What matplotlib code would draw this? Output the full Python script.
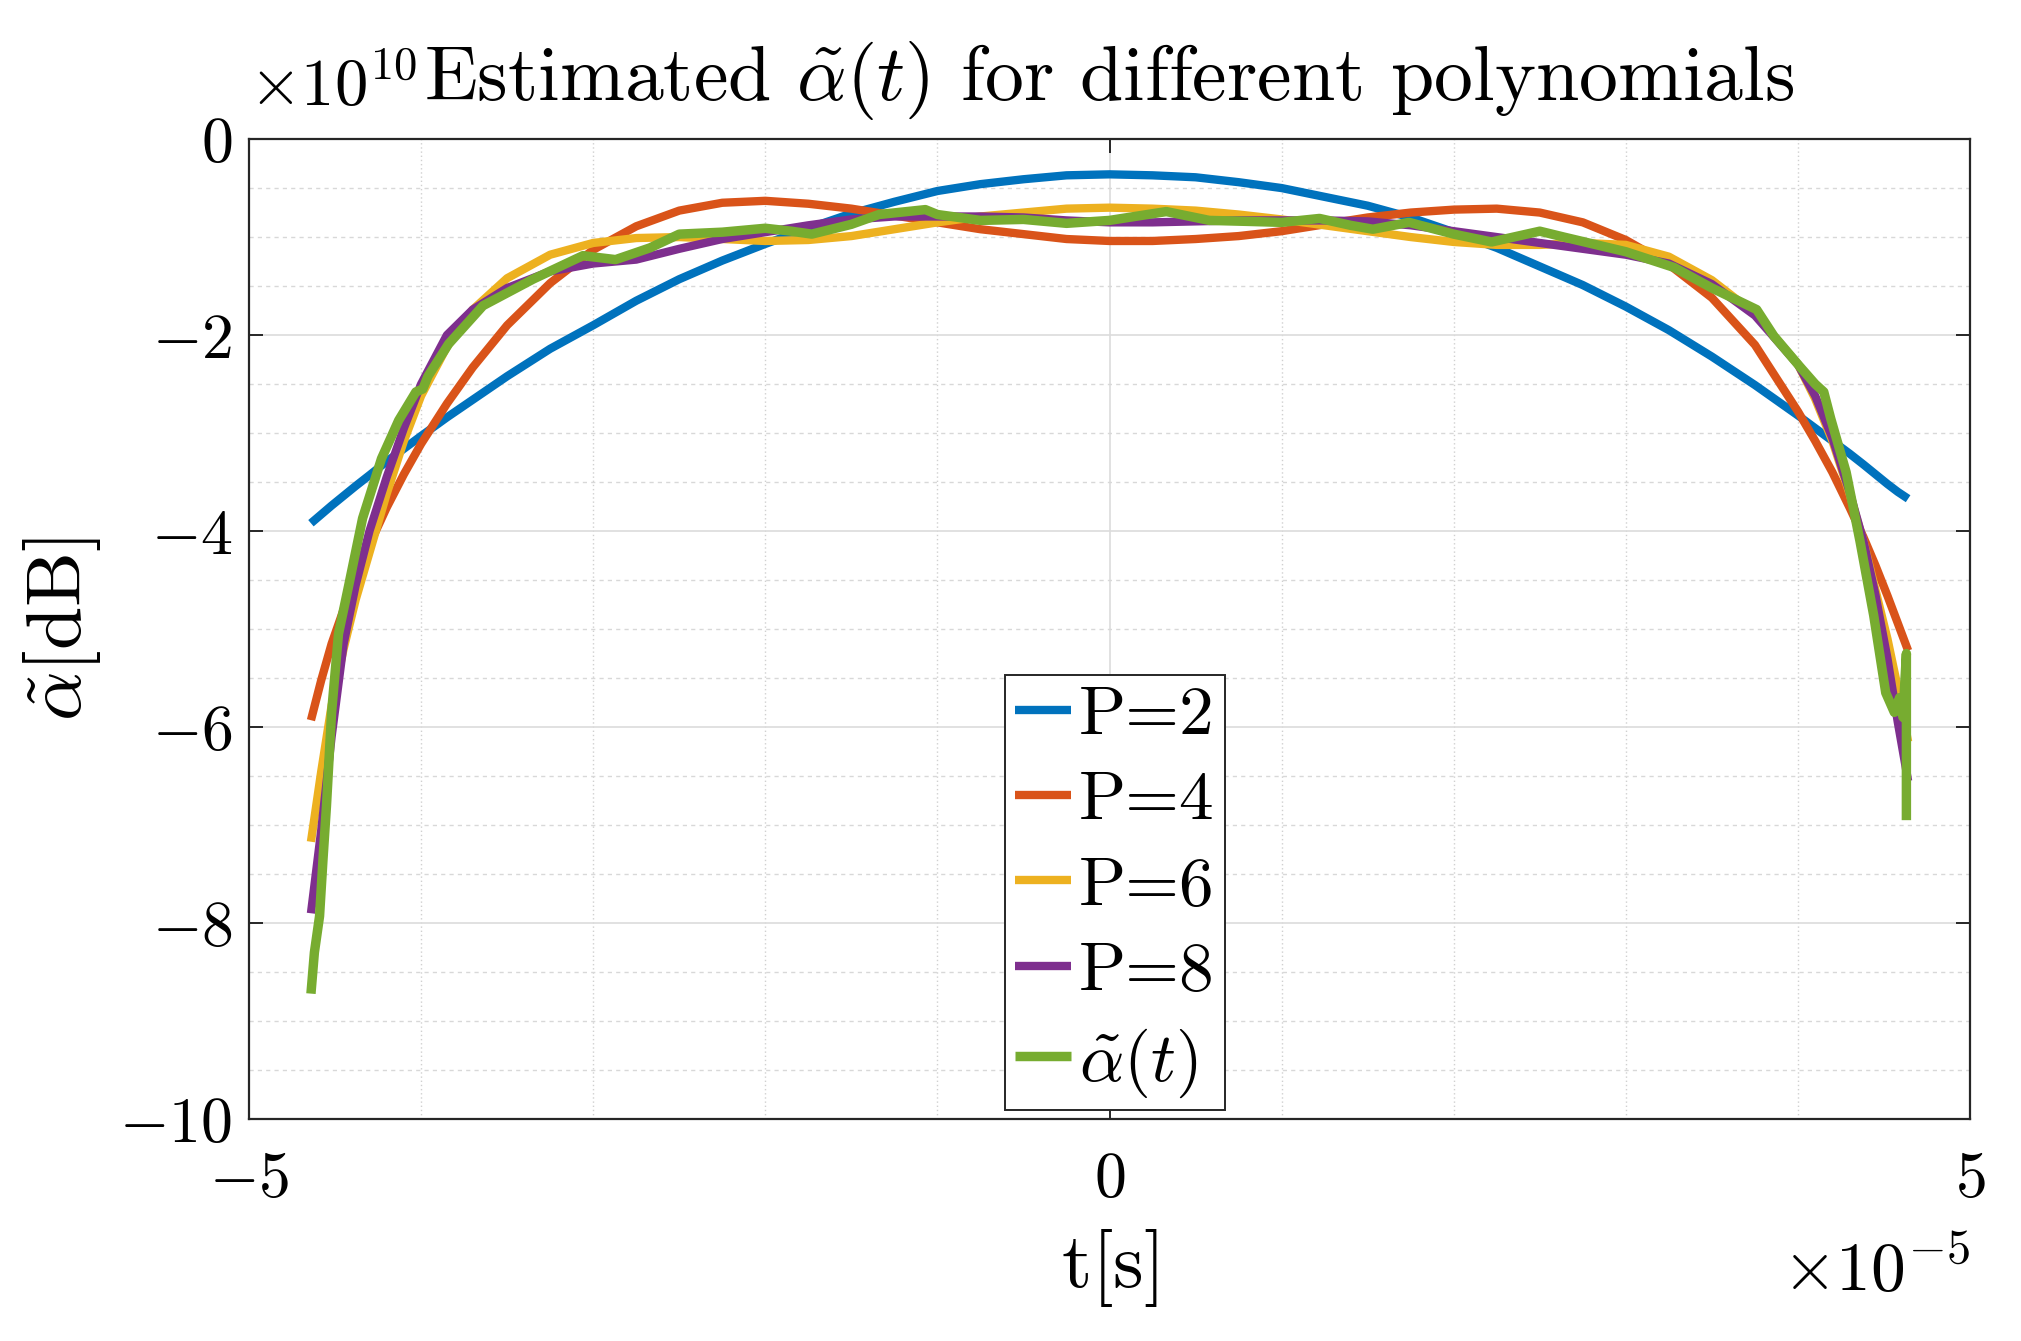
import matplotlib
matplotlib.use('Agg')
import matplotlib.pyplot as plt
import numpy as np

plt.rcParams['font.family'] = 'serif'
plt.rcParams['font.serif'] = ['cmr10', 'DejaVu Serif']
plt.rcParams['mathtext.fontset'] = 'cm'
plt.rcParams['axes.unicode_minus'] = False

# time axis (x 1e-5 s) shared by the polynomial fits
t_fit = [-4.64, -4.58, -4.52, -4.45, -4.38, -4.3, -4.2, -4.1, -4.0, -3.85, -3.7, -3.5,
         -3.25, -3.0, -2.75, -2.5, -2.25, -2.0, -1.75, -1.5, -1.25, -1.0, -0.75, -0.5,
         -0.25, 0.0, 0.25, 0.5, 0.75, 1.0, 1.25, 1.5, 1.75, 2.0, 2.25, 2.5, 2.75, 3.0,
         3.25, 3.5, 3.75, 4.0, 4.1, 4.2, 4.3, 4.38, 4.45, 4.52, 4.58, 4.64]

# fitted values (x 1e10)
p2 = [-3.92, -3.83, -3.74, -3.64, -3.54, -3.43, -3.29, -3.16, -3.03, -2.84, -2.66, -2.42,
      -2.14, -1.90, -1.65, -1.43, -1.24, -1.07, -0.91, -0.76, -0.64, -0.53, -0.46, -0.41,
      -0.37, -0.36, -0.37, -0.39, -0.44, -0.50, -0.59, -0.68, -0.80, -0.95, -1.11, -1.30,
      -1.49, -1.71, -1.95, -2.22, -2.51, -2.82, -2.95, -3.08, -3.21, -3.32, -3.42, -3.52,
      -3.60, -3.67]
p4 = [-5.93, -5.52, -5.15, -4.80, -4.48, -4.14, -3.76, -3.42, -3.11, -2.70, -2.33, -1.90,
      -1.47, -1.13, -0.89, -0.73, -0.65, -0.63, -0.66, -0.71, -0.78, -0.85, -0.92, -0.97,
      -1.02, -1.04, -1.04, -1.02, -0.99, -0.94, -0.87, -0.80, -0.75, -0.72, -0.71, -0.75,
      -0.85, -1.03, -1.28, -1.62, -2.10, -2.78, -3.08, -3.40, -3.76, -4.06, -4.35, -4.66,
      -4.94, -5.22]
p6 = [-7.17, -6.45, -5.78, -5.20, -4.70, -4.22, -3.62, -3.08, -2.62, -2.12, -1.74, -1.42,
      -1.18, -1.06, -1.01, -1.00, -1.02, -1.04, -1.03, -0.99, -0.92, -0.85, -0.79, -0.75,
      -0.71, -0.70, -0.71, -0.73, -0.77, -0.82, -0.88, -0.94, -1.00, -1.05, -1.08, -1.08,
      -1.06, -1.08, -1.20, -1.44, -1.78, -2.30, -2.65, -3.08, -3.62, -4.10, -4.60, -5.10,
      -5.60, -6.15]
p8 = [-7.90, -7.05, -6.10, -5.15, -4.55, -4.00, -3.45, -2.95, -2.50, -2.00, -1.74, -1.52,
      -1.35, -1.27, -1.23, -1.12, -1.02, -0.95, -0.88, -0.82, -0.79, -0.79, -0.79, -0.80,
      -0.83, -0.85, -0.85, -0.84, -0.83, -0.83, -0.83, -0.84, -0.88, -0.94, -1.00, -1.06,
      -1.12, -1.18, -1.27, -1.48, -1.80, -2.30, -2.62, -3.05, -3.60, -4.10, -4.65, -5.30,
      -5.95, -6.55]

# measured alpha(t)
t_meas = [-4.64, -4.62, -4.59, -4.57, -4.55, -4.52, -4.48, -4.42, -4.34, -4.23, -4.13,
          -4.03, -3.99, -3.96, -3.84, -3.64, -3.35, -3.06, -2.87, -2.67, -2.5, -2.25, -2.0,
          -1.85, -1.73, -1.5, -1.34, -1.07, -1.0, -0.75, -0.5, -0.25, 0.0, 0.33, 0.58, 0.8,
          1.0, 1.22, 1.4, 1.53, 1.74, 2.0, 2.22, 2.5, 2.64, 3.0, 3.28, 3.5, 3.76, 3.86,
          4.01, 4.1, 4.15, 4.19, 4.28, 4.36, 4.44, 4.51, 4.56, 4.59, 4.61, 4.63, 4.63]
alpha = [-8.72, -8.30, -7.93, -7.35, -6.81, -5.85, -5.05, -4.55, -3.87, -3.26, -2.87,
         -2.58, -2.55, -2.42, -2.09, -1.70, -1.43, -1.19, -1.23, -1.11, -0.97, -0.95, -0.91,
         -0.94, -0.97, -0.87, -0.77, -0.72, -0.77, -0.83, -0.82, -0.86, -0.83, -0.74, -0.83,
         -0.84, -0.85, -0.81, -0.88, -0.92, -0.85, -0.97, -1.05, -0.94, -1.00, -1.15, -1.31,
         -1.52, -1.74, -2.01, -2.32, -2.50, -2.58, -2.85, -3.40, -4.10, -4.86, -5.65, -5.85,
         -5.70, -5.90, -5.25, -6.95]

labels = ['P=2', 'P=4', 'P=6', 'P=8', r'$\tilde{\alpha}(t)$']
colors = ['#0072BD', '#D95319', '#EDB120', '#7E2F8E', '#77AC30']


def main():
    fig = plt.figure(figsize=(10.105, 6.705), dpi=200)
    ax = fig.add_axes([0.1232, 0.1655, 0.8516, 0.7308])

    for y, lab, c in zip([p2, p4, p6, p8], labels[:4], colors[:4]):
        ax.plot(t_fit, y, color=c, lw=3.0, label=lab, solid_capstyle='butt')
    ax.plot(t_meas, alpha, color=colors[4], lw=3.4, label=labels[4], solid_capstyle='butt')

    ax.set_xlim(-5, 5)
    ax.set_ylim(-10, 0)
    ax.set_xticks([-5, 0, 5])
    ax.set_xticklabels([r'$-5$', r'$0$', r'$5$'])
    ax.set_yticks([-10, -8, -6, -4, -2, 0])
    ax.set_yticklabels([r'$-10$', r'$-8$', r'$-6$', r'$-4$', r'$-2$', r'$0$'])
    ax.set_xticks(np.arange(-4, 5, 1), minor=True)
    ax.set_yticks(np.arange(-9.5, 0, 0.5), minor=True)

    ax.grid(which='major', color='#dcdcdc', lw=0.6, ls='-')
    ax.xaxis.grid(which='minor', color='#d0d0d0', lw=0.5, ls=(0, (1, 2)))
    ax.yaxis.grid(which='minor', color='#d8d8d8', lw=0.5, ls=(0, (3, 3)))
    ax.set_axisbelow(True)

    ax.tick_params(which='major', direction='in', length=5, width=0.7, color='#262626',
                   labelsize=23, top=True, right=True)
    ax.tick_params(axis='x', which='major', pad=12)
    ax.tick_params(axis='y', which='major', pad=6)
    ax.tick_params(which='minor', length=0)
    for s in ax.spines.values():
        s.set_color('#262626')
        s.set_linewidth(0.8)

    ax.set_xlabel(r'$\mathrm{t[s]}$', fontsize=28, labelpad=6)
    ax.set_ylabel(r'$\tilde{\alpha}[\mathrm{dB}]$', fontsize=28, labelpad=6)
    ax.set_title(r'Estimated $\tilde{\alpha}(t)$ for different polynomials', fontsize=28, pad=14)

    ax.text(0.0, 1.02, r'$\times10^{10}$', transform=ax.transAxes, fontsize=24,
            ha='left', va='bottom')
    ax.text(1.0, -0.155, r'$\times10^{-5}$', transform=ax.transAxes, fontsize=25,
            ha='right', va='center')

    leg = ax.legend(loc='upper left', bbox_to_anchor=(0.439, 0.453), fontsize=25,
                    handlelength=0.8, handletextpad=0.12, borderpad=0.15,
                    labelspacing=0.34, borderaxespad=0, fancybox=False,
                    framealpha=1, edgecolor='#262626')
    leg.get_frame().set_linewidth(0.7)

    fig.savefig('out.png', dpi=200)


if __name__ == '__main__':
    main()
